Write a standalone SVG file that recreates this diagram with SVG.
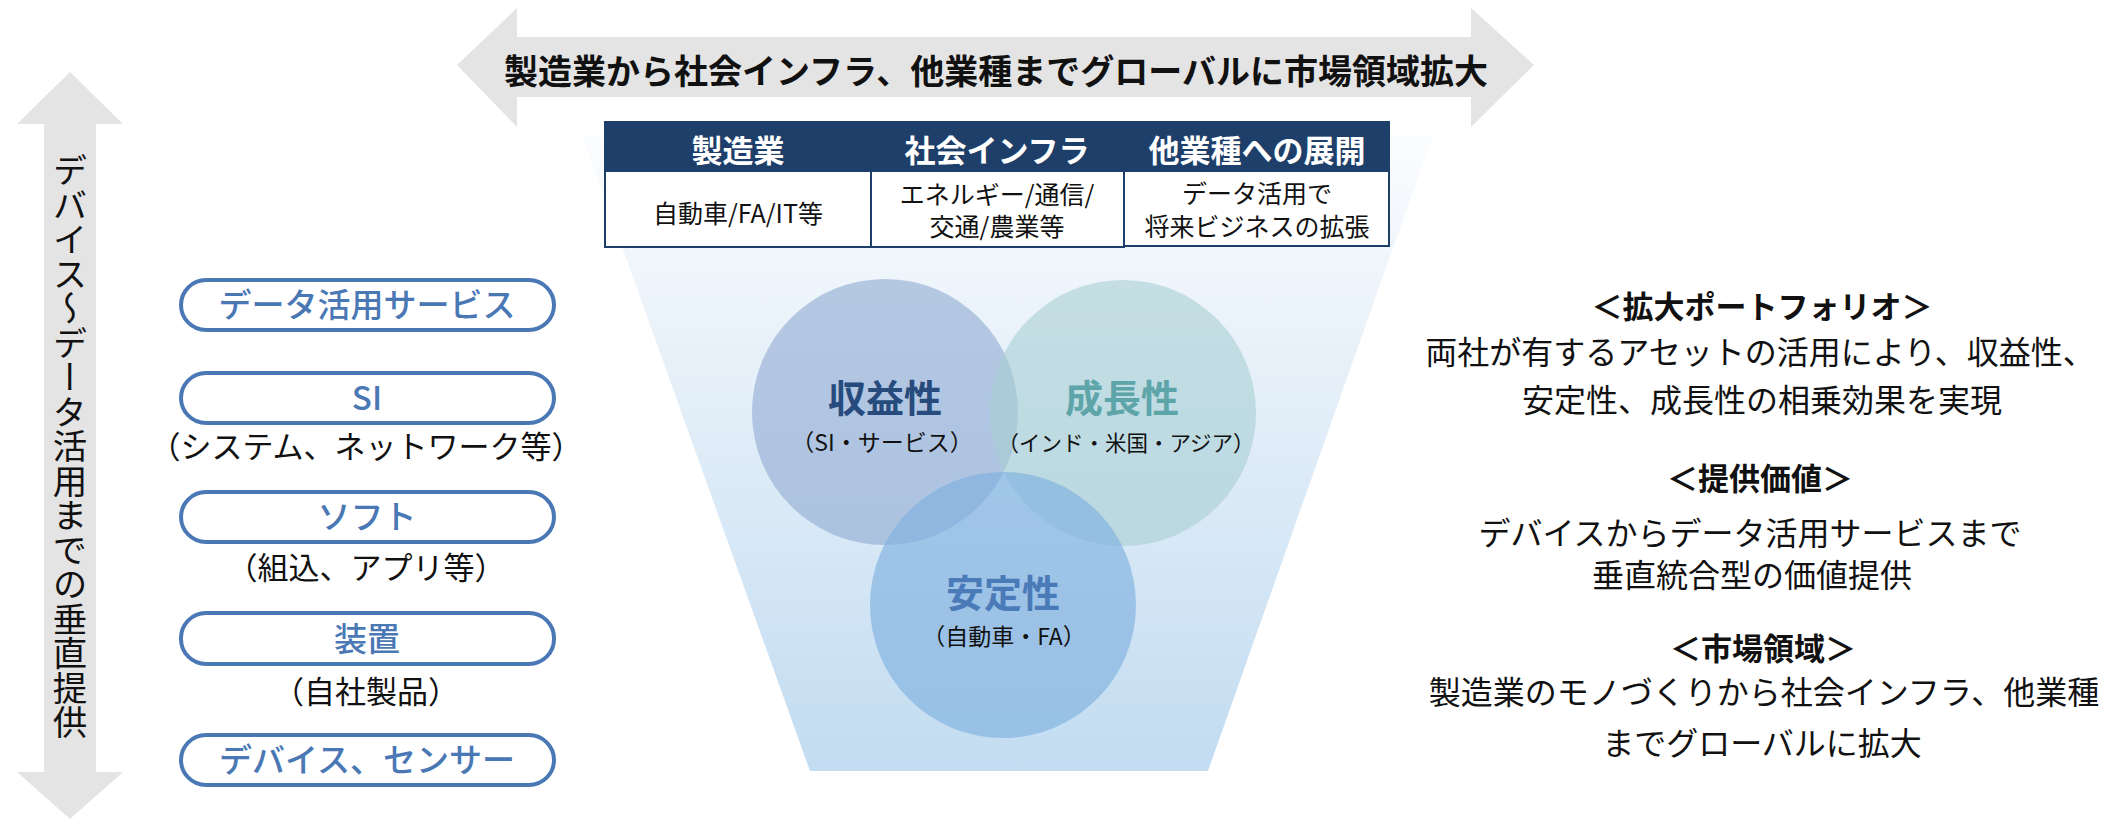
<svg xmlns="http://www.w3.org/2000/svg" width="2116" height="819" viewBox="0 0 2116 819">
<defs>
<linearGradient id="funnelGrad" x1="0" y1="0" x2="0" y2="1">
<stop offset="0" stop-color="#fbfcfe"/>
<stop offset="1" stop-color="#c2dcf1"/>
</linearGradient>
<style>
text{font-family:"Noto Sans CJK JP","Noto Sans",sans-serif;}
.arrow{fill:#e4e4e4;}
.pill{fill:#ffffff;stroke:#4a78b5;stroke-width:4;}
.pillText{fill:#4a78b5;font-size:33px;font-weight:500;text-anchor:middle;}
.sub{fill:#111;font-size:31px;text-anchor:middle;}
.hdr{fill:#1f3f6b;}
.hdrText{fill:#ffffff;font-size:31px;font-weight:bold;text-anchor:middle;}
.cell{fill:#ffffff;stroke:#1f3f6b;stroke-width:2;}
.cellText{fill:#111;font-size:25px;text-anchor:middle;}
.circTitle{font-size:38px;font-weight:bold;text-anchor:middle;}
.circSub{fill:#111;font-size:23px;text-anchor:middle;}
.rt{fill:#111;font-size:32px;text-anchor:middle;}
.rh{fill:#111;font-size:31px;font-weight:bold;text-anchor:middle;}
</style>
</defs>
<rect width="2116" height="819" fill="#ffffff"/>

<g id="connectors">
<polygon class="arrow" points="457,65 517,8 517,37 1471,37 1471,8 1534,65 1471,127 1471,97 517,97 517,127"/>
<polygon class="arrow" points="70,72 123,124 96,124 96,772 123,772 70,819 17,772 44,772 44,124 17,124"/>
</g>

<g id="top-arrow-label">
<text x="996" y="84" style="font-size:34px;font-weight:bold;text-anchor:middle;fill:#111;">製造業から社会インフラ、他業種までグローバルに市場領域拡大</text>
</g>

<g id="left-arrow-label">
<text x="70" y="153" style="font-size:34.5px;fill:#111;writing-mode:vertical-rl;">デバイス～データ活用までの垂直提供</text>
</g>

<g id="funnel">
<polygon points="582,135 1433,135 1208,771 810,771" fill="url(#funnelGrad)"/>
</g>

<g id="market-table">
<rect class="hdr" x="604" y="121" width="786" height="50"/>
<rect class="cell" x="605" y="171" width="266" height="76"/>
<rect class="cell" x="871" y="171" width="253" height="76"/>
<rect class="cell" x="1124" y="171" width="265" height="75"/>
<text class="hdrText" x="738" y="162">製造業</text>
<text class="hdrText" x="997" y="162">社会インフラ</text>
<text class="hdrText" x="1257" y="162">他業種への展開</text>
<text class="cellText" x="738" y="223">自動車/FA/IT等</text>
<text class="cellText" x="997" y="204">エネルギー/通信/</text>
<text class="cellText" x="997" y="236">交通/農業等</text>
<text class="cellText" x="1257" y="203">データ活用で</text>
<text class="cellText" x="1257" y="236">将来ビジネスの拡張</text>
</g>

<g id="circle-profit">
<circle cx="885" cy="412" r="133" fill="#8faad2" fill-opacity="0.6"/>
</g>
<g id="circle-growth">
<circle cx="1123" cy="413" r="133" fill="#a9cfd3" fill-opacity="0.6"/>
</g>
<g id="circle-stability">
<circle cx="1003" cy="605" r="133" fill="#7fb1de" fill-opacity="0.65"/>
</g>
<g id="circle-labels">
<text class="circTitle" x="885" y="412" fill="#264b7c">収益性</text>
<text class="circSub" x="882" y="451">（SI・サービス）</text>
<text class="circTitle" x="1122" y="412" fill="#5ea5aa">成長性</text>
<text class="circSub" x="1126" y="451" style="font-size:21.5px;">（インド・米国・アジア）</text>
<text class="circTitle" x="1003" y="607" fill="#4a7ab8">安定性</text>
<text class="circSub" x="1004" y="645">（自動車・FA）</text>
</g>

<g id="layer-data-service">
<rect class="pill" x="181" y="280" width="373" height="50" rx="25"/>
<text class="pillText" x="367" y="317">データ活用サービス</text>
</g>
<g id="layer-si">
<rect class="pill" x="181" y="373" width="373" height="50" rx="25"/>
<text class="pillText" x="367" y="410">SI</text>
<text class="sub" x="366" y="458">（システム、ネットワーク等）</text>
</g>
<g id="layer-soft">
<rect class="pill" x="181" y="492" width="373" height="50" rx="25"/>
<text class="pillText" x="367" y="529">ソフト</text>
<text class="sub" x="366" y="579">（組込、アプリ等）</text>
</g>
<g id="layer-equipment">
<rect class="pill" x="181" y="613" width="373" height="51" rx="25"/>
<text class="pillText" x="367" y="651">装置</text>
<text class="sub" x="366" y="703">（自社製品）</text>
</g>
<g id="layer-device">
<rect class="pill" x="181" y="735" width="373" height="50" rx="25"/>
<text class="pillText" x="367" y="772">デバイス、センサー</text>
</g>

<g id="summary">
<text class="rh" x="1762" y="318">＜拡大ポートフォリオ＞</text>
<text class="rt" x="1760" y="364">両社が有するアセットの活用により、収益性、</text>
<text class="rt" x="1762" y="412">安定性、成長性の相乗効果を実現</text>
<text class="rh" x="1760" y="490">＜提供価値＞</text>
<text class="rt" x="1750" y="545">デバイスからデータ活用サービスまで</text>
<text class="rt" x="1752" y="587">垂直統合型の価値提供</text>
<text class="rh" x="1763" y="660">＜市場領域＞</text>
<text class="rt" x="1764" y="704">製造業のモノづくりから社会インフラ、他業種</text>
<text class="rt" x="1762" y="755">までグローバルに拡大</text>
</g>
</svg>
